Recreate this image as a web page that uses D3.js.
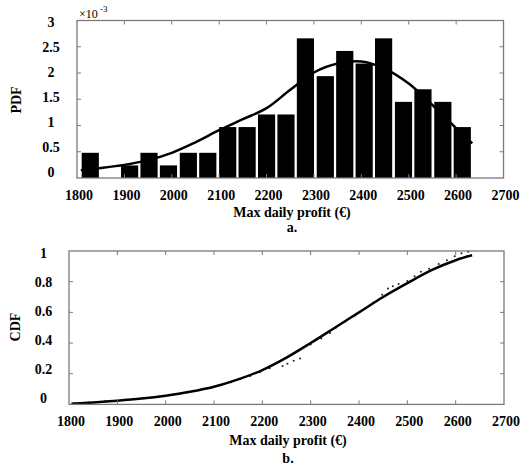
<!DOCTYPE html>
<html>
<head>
<meta charset="utf-8">
<script src="https://cdnjs.cloudflare.com/ajax/libs/d3/7.8.5/d3.min.js"></script>
<style>
  body { margin: 0; background: #fff; }
  text { font-family: "Liberation Serif", "Times New Roman", serif; font-weight: bold; fill: #000; }
</style>
</head>
<body>
<svg id="chart" width="520" height="467"></svg>
<script>
// histogram bins (centre of bin, in €) and PDF heights (x 1e-3)
const binCenters = [1828, 1869, 1911, 1952, 1993, 2035, 2076, 2118, 2159, 2200,
                    2241, 2282, 2324, 2365, 2406, 2447, 2489, 2530, 2572, 2613];
const pdfHeights = [0.48, 0, 0.24, 0.48, 0.24, 0.48, 0.48, 0.97, 0.97, 1.21,
                    1.21, 2.66, 1.94, 2.42, 2.18, 2.66, 1.45, 1.69, 1.45, 0.97];
const binWidth = 41.3;

// fitted PDF curve (x 1e-3)
const pdfFitX = [1808, 1850, 1900, 1950, 2000, 2050, 2100, 2150, 2200, 2250,
                 2300, 2350, 2400, 2450, 2500, 2550, 2600, 2634];
const pdfFitY = [0.15, 0.19, 0.25, 0.34, 0.48, 0.68, 0.91, 1.12, 1.33, 1.68,
                 2.01, 2.18, 2.22, 2.08, 1.80, 1.39, 0.95, 0.66];

// fitted CDF curve
const cdfFitX = [1805, 1850, 1900, 1950, 2000, 2050, 2100, 2150, 2200, 2250,
                 2300, 2350, 2400, 2450, 2500, 2550, 2600, 2634];
const cdfFitY = [0.005, 0.013, 0.024, 0.038, 0.057, 0.082, 0.115, 0.163, 0.224, 0.305,
                 0.40, 0.50, 0.60, 0.70, 0.79, 0.875, 0.94, 0.972];

// empirical CDF points
const cdfEmpX = [1810, 1840, 1875, 1920, 1955, 1985, 2015, 2045, 2075, 2095,
                 2115, 2135, 2155, 2175, 2195, 2215, 2242, 2252, 2265, 2278,
                 2300, 2322, 2340, 2352, 2372, 2392, 2412, 2430, 2448, 2460,
                 2470, 2482, 2500, 2515, 2528, 2545, 2565, 2582, 2598, 2612, 2626];
const cdfEmpY = [0.008, 0.012, 0.02, 0.03, 0.04, 0.05, 0.063, 0.078, 0.098, 0.11,
                 0.125, 0.145, 0.165, 0.185, 0.21, 0.235, 0.25, 0.265, 0.285, 0.30,
                 0.39, 0.43, 0.465, 0.50, 0.54, 0.58, 0.625, 0.665, 0.715, 0.755,
                 0.77, 0.785, 0.805, 0.835, 0.865, 0.885, 0.915, 0.94, 0.965, 0.985, 0.995];

const xTicks = [1800, 1900, 2000, 2100, 2200, 2300, 2400, 2500, 2600, 2700];
const pdfTicks = [0, 0.5, 1, 1.5, 2, 2.5, 3];
const cdfTicks = [0, 0.2, 0.4, 0.6, 0.8, 1];

const svg = d3.select('#chart');
const axisColor = '#7a7a7a';

function drawFrame(x, y, yTicks, yLabelY, labelX, fmt) {
  const [x0, x1] = x.range();
  const [y0, y1] = y.range();
  const g = svg.append('g');
  // ticks (inside, on all four sides)
  xTicks.slice(1, -1).forEach(t => {
    g.append('line').attr('x1', x(t)).attr('x2', x(t)).attr('y1', y0).attr('y2', y0 - 4)
      .attr('stroke', axisColor);
    g.append('line').attr('x1', x(t)).attr('x2', x(t)).attr('y1', y1).attr('y2', y1 + 4)
      .attr('stroke', axisColor);
  });
  yTicks.slice(1, -1).forEach(t => {
    g.append('line').attr('x1', x0).attr('x2', x0 + 4).attr('y1', y(t)).attr('y2', y(t))
      .attr('stroke', axisColor);
    g.append('line').attr('x1', x1).attr('x2', x1 - 4).attr('y1', y(t)).attr('y2', y(t))
      .attr('stroke', axisColor);
  });
  g.append('rect').attr('x', x0).attr('y', y1).attr('width', x1 - x0).attr('height', y0 - y1)
    .attr('fill', 'none').attr('stroke', axisColor).attr('stroke-width', 1.3);

  // tick labels
  g.selectAll('.xl').data(xTicks).enter().append('text')
    .attr('x', d => x(d) + 2).attr('y', y0 + 22)
    .attr('text-anchor', 'middle').attr('font-size', 14).text(d => d);
  g.selectAll('.yl').data(yTicks).enter().append('text')
    .attr('x', labelX).attr('y', d => yLabelY(d))
    .attr('text-anchor', 'middle').attr('font-size', 14).text(fmt);
  return g;
}

// ---------- a. PDF ----------
const xa = d3.scaleLinear().domain([1800, 2700]).range([77, 503.5]);
const ya = d3.scaleLinear().domain([0, 3]).range([178, 20.5]);
const yaLab = d3.scaleLinear().domain([0, 3]).range([176.7, 26.7]);

svg.append('g').selectAll('rect').data(binCenters).enter().append('rect')
  .attr('x', (d) => xa(d - binWidth / 2) + 1.2)
  .attr('width', xa(binWidth) - xa(0) - 2.4)
  .attr('y', (d, i) => ya(pdfHeights[i]))
  .attr('height', (d, i) => ya(0) - ya(pdfHeights[i]))
  .attr('fill', '#000');

const lineA = d3.line().curve(d3.curveCatmullRom)
  .x(d => xa(d[0])).y(d => ya(d[1]));
svg.append('path').attr('d', lineA(d3.zip(pdfFitX, pdfFitY)))
  .attr('fill', 'none').attr('stroke', '#000').attr('stroke-width', 2.5);

drawFrame(xa, ya, pdfTicks, yaLab, 51, d => d);

svg.append('text').attr('x', 79).attr('y', 17.5).attr('font-size', 12)
  .attr('font-weight', 'normal').style('font-weight', 'normal').text('×10');
svg.append('text').attr('x', 100).attr('y', 12).attr('font-size', 9)
  .style('font-weight', 'normal').text('-3');

svg.append('text').attr('transform', 'translate(21,100) rotate(-90)')
  .attr('text-anchor', 'middle').attr('font-size', 14).text('PDF');
svg.append('text').attr('x', 292).attr('y', 217).attr('text-anchor', 'middle')
  .attr('font-size', 14).text('Max daily profit (€)');
svg.append('text').attr('x', 292).attr('y', 232).attr('text-anchor', 'middle')
  .attr('font-size', 14).text('a.');

// ---------- b. CDF ----------
const xb = d3.scaleLinear().domain([1800, 2700]).range([69, 504]);
const yb = d3.scaleLinear().domain([0, 1]).range([404.4, 251]);
const ybLab = d3.scaleLinear().domain([0, 1]).range([402.7, 258.3]);

svg.append('g').selectAll('circle').data(cdfEmpX).enter().append('circle')
  .attr('cx', d => xb(d)).attr('cy', (d, i) => yb(cdfEmpY[i]))
  .attr('r', 1).attr('fill', '#222');

const lineB = d3.line().curve(d3.curveCatmullRom)
  .x(d => xb(d[0])).y(d => yb(d[1]));
svg.append('path').attr('d', lineB(d3.zip(cdfFitX, cdfFitY)))
  .attr('fill', 'none').attr('stroke', '#000').attr('stroke-width', 2.5);

drawFrame(xb, yb, cdfTicks, ybLab, 43.5, d => d);

svg.append('text').attr('transform', 'translate(20,327) rotate(-90)')
  .attr('text-anchor', 'middle').attr('font-size', 14).text('CDF');
svg.append('text').attr('x', 288).attr('y', 445).attr('text-anchor', 'middle')
  .attr('font-size', 14).text('Max daily profit (€)');
svg.append('text').attr('x', 288).attr('y', 463).attr('text-anchor', 'middle')
  .attr('font-size', 14).text('b.');
</script>
</body>
</html>
